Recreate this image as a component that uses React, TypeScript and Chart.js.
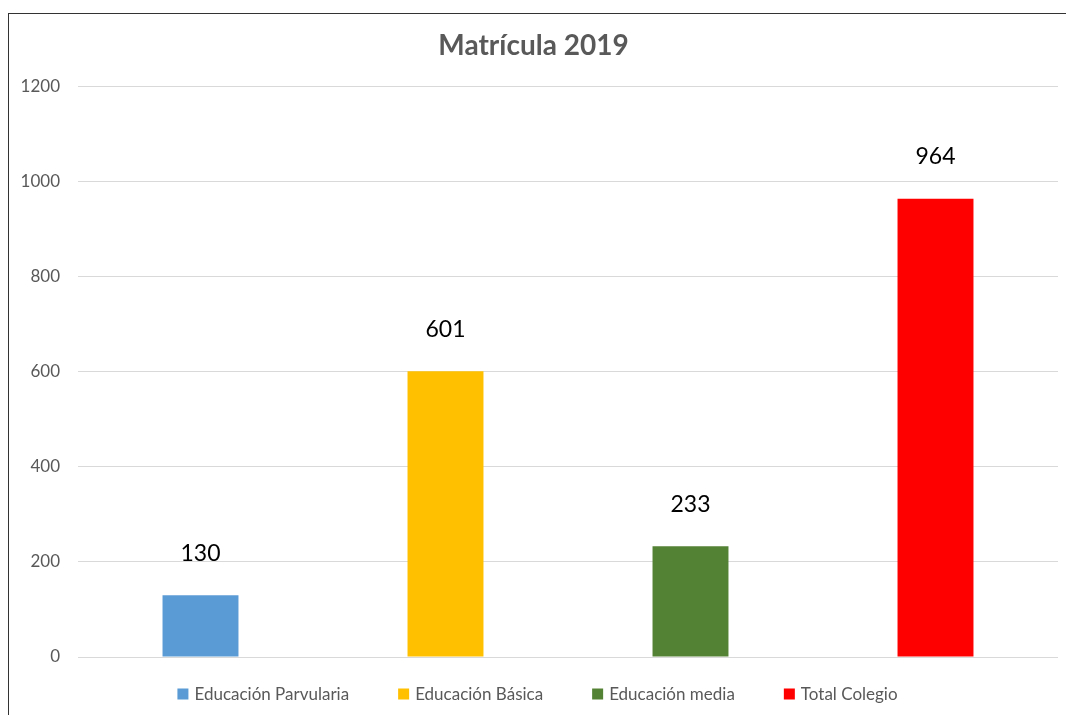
import React, { useEffect, useRef } from "react";
import { Chart, registerables } from "chart.js";

Chart.register(...registerables);

const categories = ["Educación Parvularia", "Educación Básica", "Educación media", "Total Colegio"];
const values = [130, 601, 233, 964];
const colors = ["#5B9BD5", "#FFC000", "#548235", "#FF0000"];
const yTicks = [0, 200, 400, 600, 800, 1000, 1200];
const title = "Matrícula 2019";

const FONT = "Lato, 'Liberation Sans', sans-serif";

const valueLabels = {
  id: "valueLabels",
  afterDatasetsDraw(chart: any) {
    const ctx = chart.ctx;
    ctx.save();
    ctx.font = `23px ${FONT}`;
    ctx.fillStyle = "#000000";
    ctx.textAlign = "center";
    ctx.textBaseline = "middle";
    chart.data.datasets.forEach((ds: any, di: number) => {
      const meta = chart.getDatasetMeta(di);
      meta.data.forEach((el: any, i: number) => {
        const v = ds.data[i];
        if (v == null) return;
        ctx.fillText(String(v), el.x, el.y - 42);
      });
    });
    ctx.restore();
  },
};

// Legend drawn centered under the chart with Excel-like spacing
const bottomLegend = {
  id: "bottomLegend",
  afterDraw(chart: any) {
    const ctx = chart.ctx;
    const box = 11;
    const gapText = 6;
    const gapItem = 49;
    ctx.save();
    ctx.font = `17px ${FONT}`;
    ctx.textBaseline = "middle";
    ctx.textAlign = "left";
    const items = chart.data.datasets.map((ds: any) => ({
      text: ds.label,
      color: ds.backgroundColor,
      w: ctx.measureText(ds.label).width,
    }));
    const total =
      items.reduce((s: number, it: any) => s + box + gapText + it.w, 0) + gapItem * (items.length - 1);
    let x = chart.width / 2 - total / 2;
    const y = chart.height - 21;
    items.forEach((it: any) => {
      ctx.fillStyle = it.color;
      ctx.fillRect(x, y - box / 2, box, box);
      x += box + gapText;
      ctx.fillStyle = "#595959";
      ctx.fillText(it.text, x, y + 1);
      x += it.w + gapItem;
    });
    ctx.restore();
  },
};

export default function App() {
  const ref = useRef<HTMLCanvasElement>(null);
  useEffect(() => {
    if (!ref.current) return;
    const datasets = categories.map((name, i) => ({
      label: name,
      data: categories.map((_, j) => (j === i ? values[i] : null)),
      backgroundColor: colors[i],
      borderWidth: 0,
      barPercentage: 0.31,
      categoryPercentage: 1,
    }));
    const chart = new Chart(ref.current, {
      type: "bar",
      data: { labels: categories, datasets },
      options: {
        animation: false,
        responsive: false,
        maintainAspectRatio: false,
        datasets: { bar: { skipNull: true } },
        layout: { padding: { left: 0, right: 8, top: 0, bottom: 50 } },
        plugins: {
          title: {
            display: true,
            text: title,
            color: "#595959",
            font: { family: FONT, size: 28, weight: "bold" },
            padding: { top: 15, bottom: 24 },
          },
          legend: { display: false },
          tooltip: { enabled: false },
        },
        scales: {
          x: {
            grid: { display: false },
            border: { display: false },
            ticks: { display: false },
          },
          y: {
            min: 0,
            max: 1200,
            afterBuildTicks: (axis: any) => {
              axis.ticks = yTicks.map((v) => ({ value: v }));
            },
            afterFit: (axis: any) => {
              axis.width = 69;
            },
            grid: { color: "#D9D9D9", lineWidth: 1, drawTicks: false },
            border: { display: false },
            ticks: {
              color: "#595959",
              font: { family: FONT, size: 17 },
              padding: 18,
              callback: (v: any) => String(v),
            },
          },
        },
      },
      plugins: [valueLabels, bottomLegend],
    });
    return () => chart.destroy();
  }, []);
  return (
    <div>
      <div
        style={{
          position: "fixed",
          left: 8,
          top: 13,
          width: 1100,
          height: 760,
          border: "1px solid #333333",
          boxSizing: "border-box",
          background: "#fff",
        }}
      />
      <canvas
        ref={ref}
        width={1057}
        height={701}
        style={{ position: "fixed", left: 9, top: 14, width: 1057, height: 701 }}
      />
    </div>
  );
}
